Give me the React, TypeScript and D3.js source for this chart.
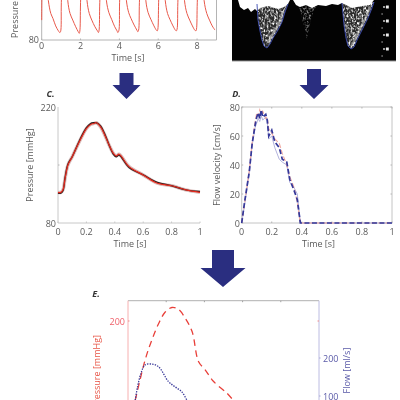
import React from "react";
import * as d3 from "d3";

type P = [number, number];
const FONT = "'Open Sans', sans-serif";
const TXT = "#5a5a5a", AXIS = "#b4b4b4", RED = "#e8584a", NAVY = "#2a2e80", BLUE = "#34389a", PINK = "#f28b8b", LAV = "#a9a9d8";

// Panel A: pressure recording [s, mmHg]
const aSeries: P[] = [[0,104],[0.02,150],[0.1,200],[0.34,128],[0.47,112],[0.58,106],[0.72,97],[0.86,91],[0.93,89],[0.97,90],[1.01,125],[1.1,190],[1.22,205],[1.34,128],[1.46,112],[1.6,104],[1.75,96],[1.88,90],[1.93,88],[1.96,90],[2.0,125],[2.1,192],[2.2,205],[2.33,128],[2.45,112],[2.58,104],[2.74,96],[2.87,91],[2.92,89],[2.95,91],[2.99,125],[3.1,192],[3.2,204],[3.33,128],[3.46,113],[3.6,105],[3.76,96],[3.88,91],[3.92,89],[3.97,91],[4.01,125],[4.12,195],[4.22,204],[4.36,128],[4.48,113],[4.6,106],[4.76,98],[4.9,92],[4.95,90],[4.99,92],[5.03,125],[5.15,190],[5.25,204],[5.36,128],[5.48,113],[5.62,105],[5.78,97],[5.9,92],[5.95,91],[5.98,93],[6.02,125],[6.12,192],[6.22,205],[6.36,128],[6.48,112],[6.6,105],[6.76,97],[6.88,92],[6.93,91],[6.97,93],[7.01,125],[7.12,192],[7.22,205],[7.35,128],[7.48,112],[7.62,104],[7.76,97],[7.88,92],[7.94,91],[7.97,93],[8.01,125],[8.12,190],[8.22,204],[8.36,128],[8.5,112],[8.64,104],[8.78,97],[8.92,92]];
const aXTicks = [0, 2, 4, 6, 8];

// Panel B: Doppler image outline
const bBright: P[] = [[238,0],[240,7],[244,10],[248,8],[251,12],[255,9],[257,11],[260,8],[268,6],[278,9],[284,7],[288,4],[290,0]];
const bBright2: P[] = [[293,0],[296,5],[300,7],[306,5],[312,8],[318,5],[326,6],[332,4],[338,5],[342,3],[352,8],[362,6],[370,5],[374,0]];
const bTrough1: P[] = [[257,4],[258,20],[260,31],[262,40],[264,46],[267,48],[270,44],[273,38],[278,30],[282,22],[285,12],[288,4]];
const bTrough2: P[] = [[298,4],[301,14],[303,22],[305,30],[307,40],[309,28],[311,20],[314,10],[318,4]];
const bTrough3: P[] = [[342,3],[343,14],[344,25],[346,38],[348,46],[351,49],[354,47],[358,38],[363,28],[368,18],[372,8],[374,2]];
const bScaleMarks = [7, 21, 35, 49];
const bScaleDots = [14, 28, 42, 56];

// Panel C: pressure template
const cTime = [0,0.02,0.035,0.05,0.07,0.1,0.15,0.2,0.23,0.25,0.27,0.3,0.33,0.36,0.39,0.41,0.43,0.5,0.6,0.7,0.8,0.9,1];
const cRed = [117,117,120,134,150,160,178,194,199,200,201,196,186,174,164,161,163,148,138,128,125,120,117];
const cBlack = [116,116,119,135,151,160,179,195,200,201,201,197,187,174,163,160,162,147,138,129,125,120,118];
const cXTicks = [0, 0.2, 0.4, 0.6, 0.8, 1];

// Panel D: flow velocity
const dTime = [0,0.02,0.05,0.07,0.09,0.1,0.11,0.12,0.13,0.14,0.16,0.17,0.18,0.2,0.22,0.25,0.27,0.3,0.32,0.35,0.37,0.39,0.4,1];
const dBlue = [0,15,35,55,68,73,76,72,78,73,75,71,60,64,56,52,44,42,30,22,16,0,0,0];
const dRed = [0,14,36,56,70,76,74,78,75,77,72,73,65,62,58,55,48,40,32,24,14,0,0,0];
const dLav = [0,13,34,54,66,69,72,70,74,71,73,70,58,60,52,44,42,40,28,24,20,1,0,0];
const dYTicks = [0, 20, 40, 60, 80];

// Panel E: combined result
const eTime = [0.038,0.09,0.125,0.16,0.195,0.23,0.264,0.3,0.336,0.369,0.403,0.447,0.517,0.551];
const ePressure = [112,157,179,197,210,215,213,203,188,155,146,133,120,112];
const eFlowTime = [0.038,0.05,0.068,0.09,0.125,0.16,0.212,0.247,0.282,0.308];
const eFlow = [89,124,160,182,184,177,138,124,111,89];

const line = (x: d3.ScaleLinear<number, number>, y: d3.ScaleLinear<number, number>, t: number[], v: number[], smooth = false) =>
  d3.line<number>().x((d) => x(d)).y((_, i) => y(v[i])).curve(smooth ? d3.curveCatmullRom : d3.curveLinear)(t) as string;

const Txt = ({ x, y, c = TXT, a = "middle", s = 9, children, rot, st }: any) => (
  <text x={x} y={y} fill={c} fontSize={s} textAnchor={a} fontFamily={FONT} style={st}
    transform={rot ? `rotate(-90 ${x} ${y})` : undefined}>{children}</text>
);

const Arrow = ({ cx, top, neck, tip, shaft, head }: any) => (
  <path fill={NAVY} d={`M${cx - shaft} ${top}H${cx + shaft}V${neck}H${cx + head}L${cx} ${tip}L${cx - head} ${neck}H${cx - shaft}Z`} />
);

export default function App() {
  const ax = d3.scaleLinear().domain([0, 9]).range([41.7, 216.5]);
  const ay = d3.scaleLinear().domain([80, 220]).range([40, -76]);
  const aLine = d3.line<P>().x((d) => ax(d[0])).y((d) => ay(d[1])).curve(d3.curveCatmullRom)(aSeries) as string;
  const bx = d3.scaleLinear().domain([232, 396]).range([232, 396]);
  const by = d3.scaleLinear().domain([0, 61]).range([0, 61]);
  const bPath = d3.line<P>().x((d) => bx(d[0])).y((d) => by(d[1]));
  const cx = d3.scaleLinear().domain([0, 1]).range([58, 200]);
  const cy = d3.scaleLinear().domain([80, 220]).range([223, 107]);
  const dx = d3.scaleLinear().domain([0, 1]).range([241.7, 392]);
  const dy = d3.scaleLinear().domain([0, 80]).range([223, 107]);
  const ex = d3.scaleLinear().domain([0, 1]).range([128, 319]);
  const ey = d3.scaleLinear().domain([150, 200]).range([366, 321]);
  const ef = d3.scaleLinear().domain([100, 200]).range([396, 358]);

  return (
    <svg width={400} height={400} style={{ position: "absolute", left: 0, top: 0, filter: "blur(0.4px)" }}>
      <defs>
        <filter id="speckle" x="0" y="0" width="100%" height="100%">
          <feTurbulence type="fractalNoise" baseFrequency="0.55 0.4" numOctaves={2} seed={4} result="n" />
          <feColorMatrix in="n" type="matrix" values="0 0 0 0 1  0 0 0 0 1  0 0 0 0 1  2 2 0 0 -1.8" result="m" />
          <feComposite in="SourceGraphic" in2="m" operator="in" />
          <feGaussianBlur stdDeviation="0.5" />
        </filter>
        <clipPath id="clipA"><rect x={30} y={0} width={190} height={41} /></clipPath>
      </defs>

      {/* A */}
      <g>
        <line x1={ax(0)} x2={ax(0)} y1={0} y2={40} stroke={AXIS} />
        <line x1={ax(0)} x2={ax(9)} y1={40} y2={40} stroke={AXIS} />
        <line x1={ax(9)} x2={ax(9)} y1={0} y2={40} stroke={AXIS} />
        {aXTicks.map((t) => (
          <g key={t}>
            <line x1={ax(t)} x2={ax(t)} y1={40} y2={38.5} stroke={AXIS} />
            <Txt x={ax(t)} y={49}>{t}</Txt>
          </g>
        ))}
        <path d={aLine} fill="none" stroke={RED} strokeWidth={1} clipPath="url(#clipA)" />
        <Txt x={39} y={43} a="end">80</Txt>
        <Txt x={18} y={38} a="start" rot>Pressure [mmHg]</Txt>
        <Txt x={128} y={61}>Time [s]</Txt>
      </g>

      {/* B */}
      <g>
        <rect x={232} y={0} width={164} height={61} fill="#030303" />
        <line x1={232} x2={396} y1={61} y2={61} stroke="#999" />
        <path d={bPath(bTrough2) + "Z"} fill="#bbbbbb" opacity={0.7} filter="url(#speckle)" />
        <path d={bPath(bTrough1) + "Z"} fill="#2a2a2a" />
        <path d={bPath(bTrough3) + "Z"} fill="#2a2a2a" />
        <path d={bPath(bTrough1) + "Z"} fill="#ffffff" filter="url(#speckle)" />
        <path d={bPath(bTrough3) + "Z"} fill="#ffffff" filter="url(#speckle)" />
        <path d={bPath(bBright) + "Z"} fill="#ffffff" />
        <path d={bPath(bBright2) + "Z"} fill="#ffffff" />
        <path d={bPath(bTrough1.slice(6, 11)) as string} fill="none" stroke="#e8e8e8" strokeWidth={2.5} strokeOpacity={0.5} transform="translate(-2,-1)" />
        <path d={bPath(bTrough3.slice(6, 11)) as string} fill="none" stroke="#e8e8e8" strokeWidth={2.5} strokeOpacity={0.5} transform="translate(-2,-1)" />
        <path d={bPath(bTrough1) as string} fill="none" stroke="#3a4ab0" strokeWidth={0.9} />
        <path d={bPath(bTrough3) as string} fill="none" stroke="#3a4ab0" strokeWidth={0.9} />
        {bScaleMarks.map((m) => (
          <g key={m}>
            <rect x={bx(383)} y={by(m) - 0.7} width={2.2} height={1.4} fill="#ddd" />
            <rect x={bx(386)} y={by(m) - 1.5} width={2.8} height={3} fill="#eee" />
          </g>
        ))}
        {bScaleDots.map((m) => (
          <rect key={m} x={bx(381.5)} y={by(m) - 0.6} width={1.2} height={1.2} fill="#bbb" />
        ))}
      </g>

      {/* Arrows */}
      <Arrow cx={126.5} top={73} neck={85} tip={99} shaft={7} head={14} />
      <Arrow cx={314} top={69} neck={85} tip={99} shaft={7} head={14.5} />
      <Arrow cx={223} top={250} neck={268} tip={287} shaft={11} head={22.5} />

      {/* C */}
      <g>
        <Txt x={50.5} y={97} c="#333" st={{ fontWeight: 700, fontStyle: "italic" }}>C.</Txt>
        <line x1={cx(0)} x2={cx(0)} y1={107} y2={223} stroke="#c8c8c8" />
        <line x1={cx(0)} x2={cx(1)} y1={223} y2={223} stroke="#c8c8c8" />
        <line x1={cx(0)} x2={cx(0) + 1.5} y1={cy(150)} y2={cy(150)} stroke={AXIS} />
        {cXTicks.map((t) => (
          <g key={t}>
            <line x1={cx(t)} x2={cx(t)} y1={223} y2={221.5} stroke="#c8c8c8" />
            <Txt x={cx(t)} y={235}>{t}</Txt>
          </g>
        ))}
        <Txt x={56} y={111} a="end">220</Txt>
        <Txt x={56} y={227} a="end">80</Txt>
        <Txt x={33} y={165} rot>Pressure [mmHg]</Txt>
        <Txt x={130} y={247}>Time [s]</Txt>
        <path d={line(cx, cy, cTime, cRed, true)} fill="none" stroke="#c9a09c" strokeWidth={3.4} opacity={0.7} />
        <path d={line(cx, cy, cTime, cBlack, true)} fill="none" stroke="#222" strokeWidth={1.4} />
        <path d={line(cx, cy, cTime, cRed, true)} fill="none" stroke="#e8281c" strokeWidth={1.2} />
      </g>

      {/* D */}
      <g>
        <Txt x={236.5} y={97} c="#333" st={{ fontWeight: 700, fontStyle: "italic" }}>D.</Txt>
        <rect x={dx(0)} y={107} width={dx(1) - dx(0)} height={116} fill="none" stroke="#c4c4c4" />
        {cXTicks.map((t) => (
          <g key={t}>
            <line x1={dx(t)} x2={dx(t)} y1={107} y2={108.5} stroke={AXIS} />
            <line x1={dx(t)} x2={dx(t)} y1={223} y2={221.5} stroke={AXIS} />
            <Txt x={dx(t)} y={235}>{t}</Txt>
          </g>
        ))}
        {dYTicks.map((v) => (
          <g key={v}>
            <line x1={dx(1)} x2={dx(1) - 1.5} y1={dy(v)} y2={dy(v)} stroke={AXIS} />
            <line x1={dx(0)} x2={dx(0) + 1.5} y1={dy(v)} y2={dy(v)} stroke={AXIS} />
            <Txt x={240} y={dy(v) + 3.5} a="end">{v}</Txt>
          </g>
        ))}
        <Txt x={220} y={165} rot>Flow velocity [cm/s]</Txt>
        <Txt x={318.5} y={247}>Time [s]</Txt>
        <path d={line(dx, dy, dTime, dLav)} fill="none" stroke={LAV} strokeWidth={0.9} />
        <path d={line(dx, dy, dTime, dRed)} fill="none" stroke="#f0a79f" strokeWidth={1.1} strokeDasharray="5 2" />
        <path d={line(dx, dy, dTime, dBlue)} fill="none" stroke={BLUE} strokeWidth={1.7} strokeDasharray="5 2.5" />
      </g>

      {/* E */}
      <g>
        <Txt x={96} y={297} c="#333" st={{ fontWeight: 700, fontStyle: "italic" }}>E.</Txt>
        <line x1={ex(0)} x2={ex(1)} y1={300.7} y2={300.7} stroke="#b0b0b0" />
        <line x1={ex(0)} x2={ex(0)} y1={300.7} y2={400} stroke="#f7b0b0" />
        <line x1={ex(1)} x2={ex(1)} y1={300.7} y2={400} stroke="#bcbce2" />
        {[0.2, 0.4, 0.6, 0.8].map((t) => (
          <line key={t} x1={ex(t)} x2={ex(t)} y1={300.7} y2={302.2} stroke="#a0a0a0" />
        ))}
        <line x1={ex(0)} x2={ex(0) + 1.5} y1={ey(200)} y2={ey(200)} stroke={PINK} />
        <line x1={ex(1)} x2={ex(1) - 1.5} y1={ey(200)} y2={ey(200)} stroke={PINK} />
        <line x1={ex(1)} x2={ex(1) + 1.5} y1={ef(200)} y2={ef(200)} stroke={LAV} />
        <line x1={ex(1)} x2={ex(1) + 1.5} y1={ef(100)} y2={ef(100)} stroke={LAV} />
        <Txt x={125} y={ey(200) + 3.5} a="end" c="#f0606a">200</Txt>
        <Txt x={323} y={ef(200) + 3.5} a="start" c="#5a5aa8">200</Txt>
        <Txt x={323} y={ef(100) + 3.5} a="start" c="#5a5aa8">100</Txt>
        <Txt x={100} y={335} a="end" c="#e8584a" rot>Pressure [mmHg]</Txt>
        <Txt x={350} y={370.5} c="#5a5aa8" rot>Flow [ml/s]</Txt>
        <path d={line(ex, ey, eTime, ePressure, true)} fill="none" stroke="#e8403a" strokeWidth={1.3} strokeDasharray="6.5 4.5" />
        <path d={line(ex, ef, eFlowTime, eFlow, true)} fill="none" stroke="#3a3a9a" strokeWidth={1.3} strokeDasharray="1.4 1.2" />
      </g>
    </svg>
  );
}
